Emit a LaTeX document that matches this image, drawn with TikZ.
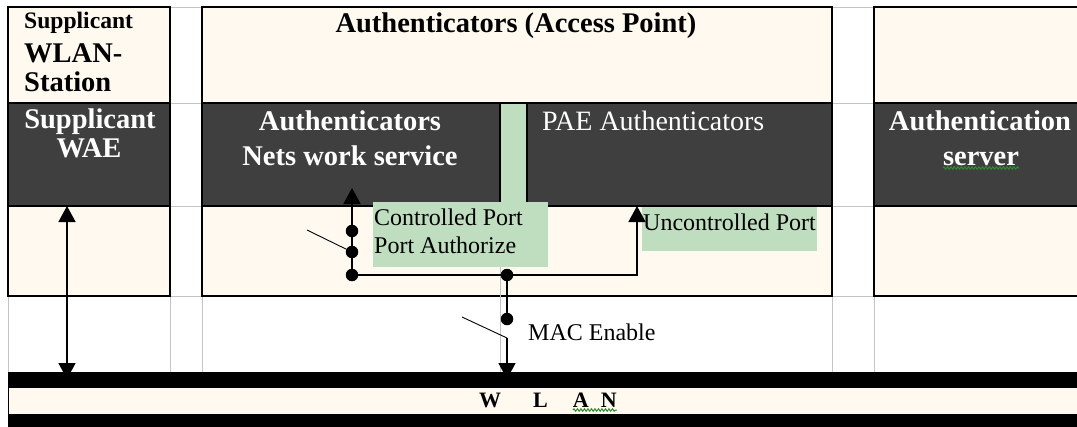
\documentclass[tikz,border=0pt]{standalone}
\usepackage{fontspec}
\setmainfont{Liberation Serif}
\usetikzlibrary{arrows.meta,decorations.pathmorphing}

\definecolor{cellcream}{HTML}{FFF9EF}
\definecolor{celldark}{HTML}{3F3F3F}
\definecolor{portgreen}{HTML}{BFDDBF}
\definecolor{gridgray}{HTML}{C4C4C4}
\definecolor{spellgreen}{HTML}{2E8B2E}

\tikzset{
  cell/.style={rectangle, draw=black, line width=1.2pt, inner sep=0pt, outer sep=0pt, anchor=north west},
  lightcell/.style={cell, fill=cellcream},
  darkcell/.style={cell, fill=celldark},
  greenpatch/.style={rectangle, fill=portgreen, draw=none, inner sep=0pt, outer sep=0pt, anchor=north west},
  busbar/.style={rectangle, fill=black, draw=black, line width=1pt, inner sep=0pt, outer sep=0pt, anchor=north west},
  busgap/.style={rectangle, fill=cellcream, draw=black, line width=1pt, inner sep=0pt, outer sep=0pt, anchor=north west},
  gridline/.style={draw=gridgray, line width=1pt},
  boldtxt/.style={font=\fontsize{28.5}{30}\selectfont\bfseries, inner sep=0pt},
  smallbold/.style={font=\fontsize{23.6}{25}\selectfont\bfseries, inner sep=0pt},
  whitebold/.style={boldtxt, text=white},
  paetxt/.style={font=\fontsize{28}{30}\selectfont, text=white, inner sep=0pt},
  porttxt/.style={font=\fontsize{24}{26}\selectfont, inner sep=0pt},
  bustxt/.style={font=\fontsize{22}{24}\selectfont\bfseries, inner sep=0pt},
  dot/.style={circle, fill=black, draw=none, inner sep=0pt, outer sep=0pt, minimum size=12.5pt},
  wire/.style={draw=black, line width=1.6pt},
  lever/.style={draw=black, line width=0.9pt},
  headtip/.tip={Triangle[length=16pt, width=17pt]},
  spellmark/.style={draw=spellgreen, line width=1pt, decorate,
    decoration={snake, amplitude=1.2pt, segment length=3.5pt}},
}

\begin{document}
\begin{tikzpicture}[x=1pt, y=-1pt]
  \useasboundingbox (0,0) rectangle (1077,426);
  \clip (0,0) rectangle (1077,426);

  % table grid showing through the gaps and the open row
  \foreach \gy in {7,103,206,296}
    \draw[gridline] (8,\gy) -- (1077,\gy);
  \foreach \gx in {8,170,202,832,874}
    \draw[gridline] (\gx,296) -- (\gx,372);

  % supplicant column
  \node[lightcell, minimum width=162pt, minimum height=96pt]  (sta)  at (8,7)   {};
  \node[darkcell,  minimum width=162pt, minimum height=103pt] (wae)  at (8,103) {};
  \node[lightcell, minimum width=162pt, minimum height=90pt]  (stab) at (8,206) {};

  % authenticator column
  \node[lightcell, minimum width=630pt, minimum height=96pt]  (ap)   at (202,7)   {};
  \node[darkcell,  minimum width=298pt, minimum height=103pt] (ans)  at (202,103) {};
  \node[darkcell,  minimum width=305pt, minimum height=103pt] (pae)  at (527,103) {};
  \node[lightcell, minimum width=630pt, minimum height=90pt]  (apb)  at (202,206) {};

  % authentication server column
  \node[lightcell, minimum width=216pt, minimum height=96pt]  (srvt) at (874,7)   {};
  \node[darkcell,  minimum width=216pt, minimum height=103pt] (srv)  at (874,103) {};
  \node[lightcell, minimum width=216pt, minimum height=90pt]  (srvb) at (874,206) {};

  % port areas
  \node[greenpatch, minimum width=25.8pt, minimum height=99pt] (strip) at (500.6,103.6) {};
  \node[greenpatch, minimum width=175pt,  minimum height=65pt] (ctlbox) at (373,202) {};
  \node[greenpatch, minimum width=175pt,  minimum height=44.4pt] (unbox) at (642,206.6) {};
  \draw[gridline] (500,267) -- (500,372);

  % labels
  \node[smallbold, anchor=base west] (lsup) at (24,28) {Supplicant};
  \node[boldtxt,   anchor=base west] (lwlan) at (24,62) {WLAN-};
  \node[boldtxt,   anchor=base west] (lsta) at (24,91) {Station};
  \node[whitebold, anchor=base] (lsupw) at (90,128) {Supplicant};
  \node[whitebold, anchor=base] (lwae)  at (89,157) {WAE};

  \node[boldtxt,   anchor=base] (lap)  at (516,32)  {Authenticators (Access Point)};
  \node[whitebold, anchor=base] (lans) at (350,130) {Authenticators};
  \node[whitebold, anchor=base] (lnet) at (350,165) {Nets work service};
  \node[paetxt, anchor=base west] (lpae) at (542,130) {PAE Authenticators};

  \node[whitebold, anchor=base] (lauth) at (980,130) {Authentication};
  \node[whitebold, anchor=base] (lsrv)  at (981,165) {server};
  \draw[spellmark] ([yshift=-3pt]lsrv.base west) -- ([yshift=-3pt]lsrv.base east);

  \node[porttxt, anchor=base west] (lctl)  at (374,225) {Controlled Port};
  \node[porttxt, anchor=base west] (lauz)  at (374,253) {Port Authorize};
  \node[porttxt, anchor=base west] (lunc)  at (643,230) {Uncontrolled Port};
  \node[porttxt, anchor=base west] (lmac)  at (528,340) {MAC Enable};

  % switch points
  \node[dot] (c1) at (352,231) {};
  \node[dot] (c2) at (352,252) {};
  \node[dot] (c3) at (352,275) {};
  \node[dot] (jn) at (507,275) {};
  \node[dot] (mac) at (507,319) {};

  \coordinate (ctltip)  at (352,188);
  \coordinate (ctlfree) at (307,230);
  \coordinate (ucorner) at (637,275);
  \coordinate (macfree) at (462,317);
  \coordinate (macpiv)  at (507,338);
  \coordinate (macbus)  at (507,379);
  \coordinate (supbus)  at (67,379);

  % supplicant link to the medium
  \draw[wire, {headtip}-{headtip}] (wae.south -| supbus) -- (supbus);

  % controlled port
  \draw[wire, -{headtip}] (c1) -- (ctltip);
  \draw[wire] (c1) -- (c2) -- (c3);
  \draw[lever] (ctlfree) -- (c2);
  \draw[wire] (c3) -- (jn);

  % uncontrolled port
  \draw[wire, -{headtip}] (jn) -- (ucorner) -- (pae.south -| ucorner);

  % MAC enable switch
  \draw[wire] (jn) -- (mac);
  \draw[lever] (macfree) -- (macpiv);
  \draw[wire, -{headtip}] (macpiv) -- (macbus);

  % wireless medium
  \node[busbar, minimum width=1090pt, minimum height=15pt] (bus) at (8,372) {};
  \node[busgap, minimum width=1090pt, minimum height=27pt] (busrow) at (8,387) {};
  \node[busbar, minimum width=1090pt, minimum height=14pt] (busfoot) at (8,414) {};
  \node[bustxt, anchor=base west] (lwl) at (479,407)
    {W\hspace{32pt}L\hspace{25pt}A\hspace{12pt}N};
  \draw[spellmark] ([xshift=-44pt, yshift=-3pt]lwl.base east) -- ([yshift=-3pt]lwl.base east);
\end{tikzpicture}
\end{document}
